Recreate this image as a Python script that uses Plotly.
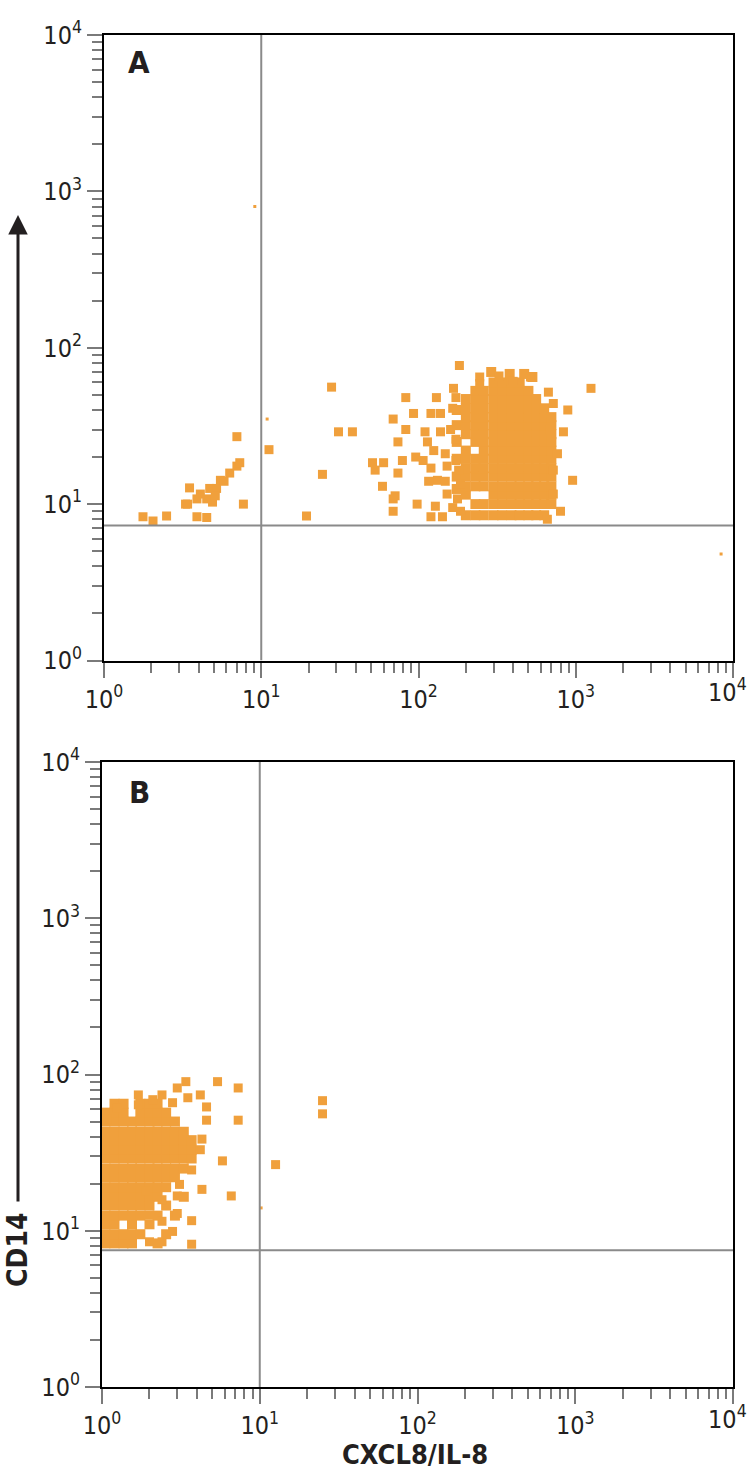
import plotly.graph_objects as go

# ---------------------------------------------------------------------------
# Data (CXCL8/IL-8 vs CD14, log-log dot plots)
# ---------------------------------------------------------------------------
DOT = "#F0A03C"
FONT = "Liberation Sans Narrow, DejaVu Sans Condensed, Open Sans, sans-serif"
INK = "#231f20"

decades = [1, 10, 100, 1000, 10000]
decade_labels = ["10<sup>0</sup>", "10<sup>1</sup>", "10<sup>2</sup>", "10<sup>3</sup>", "10<sup>4</sup>"]
minor_vals = [m * d for d in [1, 10, 100, 1000] for m in range(2, 10)]

# quadrant gates (x: CXCL8/IL-8, y: CD14)
gate_a = (10, 7.3)
gate_b = (10, 7.5)

# Panel A - dense population
a_core_x = (
    [175] * 6 + [200] * 12 + [230] * 13
    + [260] * 14 + [300] * 16 + [340] * 16 + [390] * 16 + [440] * 16
    + [500] * 15 + [560] * 14 + [630] * 13 + [700] * 11
    + [290, 380, 470, 530]
)
a_core_y = (
    [12.5, 15, 19.5, 25, 32, 40]
    + [8.5, 11.5, 13, 15, 17, 19.5, 22, 28, 32, 36, 41, 47]
    + [8.5, 10, 13, 15, 17, 19.5, 25, 28, 32, 36, 41, 47, 53]
    + [8.5, 10, 13, 15, 17, 19.5, 22, 25, 28, 32, 36, 41, 47, 53]
    + [8.5, 10, 11.5, 13, 15, 17, 19.5, 22, 25, 28, 32, 36, 41, 47, 53, 60]
    + [8.5, 10, 11.5, 13, 15, 17, 19.5, 22, 25, 28, 32, 36, 41, 47, 53, 60]
    + [8.5, 10, 11.5, 13, 15, 17, 19.5, 22, 25, 28, 32, 36, 41, 47, 53, 60]
    + [8.5, 10, 11.5, 13, 15, 17, 19.5, 22, 25, 28, 32, 36, 41, 47, 53, 60]
    + [8.5, 10, 11.5, 13, 15, 17, 19.5, 22, 25, 28, 32, 36, 41, 47, 53]
    + [8.5, 10, 11.5, 13, 15, 17, 19.5, 22, 25, 28, 32, 36, 41, 47]
    + [8.5, 10, 11.5, 13, 15, 17, 19.5, 22, 25, 28, 32, 36, 41]
    + [10, 11.5, 13, 15, 17, 19.5, 22, 25, 28, 32, 36]
    + [70, 68, 68, 65]
)

# Panel A - scattered events
a_sparse_x = [
    1.77, 2.05, 2.5, 3.5, 3.3, 3.9, 3.9, 4.5, 4.7, 5.2, 4.9, 4.5, 5.5, 6.3, 7.0, 7.3, 7.0, 7.7,
    3.4, 4.1, 5.1, 5.8,
    11.2, 19.4, 24.5, 31, 38, 28, 69, 51, 60, 53, 59, 69, 69,
    182, 83, 93, 130, 120, 138, 83, 110, 74, 79, 96, 74, 71, 98, 128, 120, 142,
    107, 114, 125, 120, 132, 148, 116, 152, 148, 138, 160, 165, 167, 173, 152, 177,
    165, 185, 173, 173, 180, 185,
    1250, 890, 670, 515, 400, 325, 245, 245, 835, 955, 720, 800, 660, 720, 690, 765, 720,
]
a_sparse_y = [
    8.3, 7.8, 8.4, 12.7, 10, 10.8, 8.3, 8.2, 12.6, 12.6, 10.3, 10.8, 14.2, 15.8, 17.5, 18.4, 27, 10,
    10, 11.6, 11.3, 14,
    22.3, 8.4, 15.5, 29, 29, 56, 35, 18.4, 18.4, 16.5, 13, 10.8, 9,
    77, 48, 38, 48, 38, 38, 30, 29, 25, 19, 20, 15.8, 11.3, 10, 9.7, 8.3, 8.3,
    19, 25, 22, 17, 14.2, 14, 14, 17.5, 21, 29, 30, 41, 55, 48, 11.6, 10.8,
    9.5, 9, 26, 19, 16.5, 13.5,
    55, 40, 52, 65, 61, 66, 65, 59, 29, 14.2, 11.6, 9, 8, 44, 30, 21, 16.5,
]

# Panel A - faint single events
a_faint_x = [9.1, 8400, 10.9]
a_faint_y = [800, 4.8, 35]

# Panel B - dense population
b_core_x = (
    [1.05] * 15 + [1.2] * 16 + [1.37] * 15 + [1.55] * 14 + [1.75] * 14
    + [2.0] * 13 + [2.25] * 13 + [2.55] * 11 + [2.9] * 8 + [3.3] * 6 + [3.7] * 3
)
b_core_y = (
    [8.3, 9.5, 11, 12.5, 14.5, 16.5, 19, 22, 25, 29, 33, 38, 43, 50, 57]
    + [8.3, 9.5, 11, 12.5, 14.5, 16.5, 19, 22, 25, 29, 33, 38, 43, 50, 57, 65]
    + [8.3, 9.5, 12.5, 14.5, 16.5, 19, 22, 25, 29, 33, 38, 43, 50, 57, 65]
    + [8.3, 9.5, 11, 12.5, 14.5, 16.5, 19, 22, 25, 29, 33, 38, 43, 50]
    + [9.5, 12.5, 14.5, 16.5, 19, 22, 25, 29, 33, 38, 43, 50, 57, 65]
    + [11, 14.5, 16.5, 19, 22, 25, 29, 33, 38, 43, 50, 57, 65]
    + [8.3, 12.5, 16.5, 19, 22, 25, 29, 33, 38, 43, 50, 57, 65]
    + [9.5, 14.5, 19, 22, 25, 29, 33, 38, 43, 50, 57]
    + [12.5, 22, 25, 29, 33, 38, 43, 50]
    + [16.5, 25, 29, 33, 38, 43]
    + [29, 33, 38]
)

# Panel B - scattered events
b_sparse_x = [
    3.4, 5.4, 7.3, 4.6, 7.3, 25, 25, 5.8, 12.6, 6.6, 4.3, 3.7, 3.7, 3.7, 3.0, 2.8, 3.1, 3.0,
    2.4, 2.4, 2.0, 2.0, 2.4, 1.9, 4.2, 4.3, 4.6, 4.2, 3.5, 3.0, 1.7, 1.7, 1.25, 1.07, 2.4, 2.1, 2.8,
]
b_sparse_y = [
    90, 90, 82, 62, 51, 68, 56, 28, 26.5, 16.7, 18.4, 24.5, 11.6, 8.2, 12.9, 9.9, 19.8, 16.7,
    15.8, 11.5, 12.6, 8.5, 8.5, 18, 33, 38.6, 51, 74, 71, 82, 74, 64, 61, 52, 74, 69, 66,
]

b_faint_x = [10.2]
b_faint_y = [14]

# ---------------------------------------------------------------------------
fig = go.Figure()


def add_panel(fig, xa, ya, core_x, core_y, sparse_x, sparse_y, faint_x, faint_y, gate):
    for xs, ys, size in [(core_x, core_y, 10), (sparse_x, sparse_y, 9), (faint_x, faint_y, 3)]:
        fig.add_trace(go.Scatter(
            x=xs, y=ys, mode="markers", xaxis=xa, yaxis=ya, showlegend=False,
            marker=dict(symbol="square", size=size, color=DOT, line=dict(width=0)),
            hoverinfo="skip",
        ))
    gx, gy = gate
    fig.add_trace(go.Scatter(x=[gx, gx], y=[1, 10000], mode="lines", xaxis=xa, yaxis=ya,
                             line=dict(color="#8a8a8a", width=2), showlegend=False, hoverinfo="skip"))
    fig.add_trace(go.Scatter(x=[1, 10000], y=[gy, gy], mode="lines", xaxis=xa, yaxis=ya,
                             line=dict(color="#8a8a8a", width=2), showlegend=False, hoverinfo="skip"))


add_panel(fig, "x", "y", a_core_x, a_core_y, a_sparse_x, a_sparse_y, a_faint_x, a_faint_y, gate_a)
add_panel(fig, "x2", "y2", b_core_x, b_core_y, b_sparse_x, b_sparse_y, b_faint_x, b_faint_y, gate_b)


def log_axis(domain, anchor, labels):
    return dict(
        type="log", range=[0, 4], domain=domain, anchor=anchor, automargin=False,
        showgrid=False, zeroline=False,
        showline=True, linecolor="black", linewidth=2, mirror=True,
        ticks="outside", ticklen=15, tickwidth=2, tickcolor="#7a7a7a",
        tickmode="array", tickvals=decades, ticktext=labels,
        tickfont=dict(family=FONT, size=25, color=INK),
        minor=dict(tickmode="array", tickvals=minor_vals, ticks="outside",
                   ticklen=10, tickwidth=2, tickcolor="#7a7a7a", showgrid=False),
    )


def label(text, x, y, size, angle=0, xanchor="center"):
    return dict(text=text, x=x / 750, y=1 - y / 1473, xref="paper", yref="paper",
                xanchor=xanchor, yanchor="middle", textangle=angle, showarrow=False,
                font=dict(family=FONT, size=size, color=INK))


# the last x label sits at the page edge, so it is placed right-aligned instead
x_labels = decade_labels[:-1] + [""]

fig.update_layout(
    width=750, height=1473,
    margin=dict(l=0, r=0, t=0, b=0, autoexpand=False),
    paper_bgcolor="white", plot_bgcolor="white",
    xaxis=log_axis([104 / 750, 733 / 750], "y", x_labels),
    yaxis=log_axis([1 - 660.5 / 1473, 1 - 35 / 1473], "x", decade_labels),
    xaxis2=log_axis([102 / 750, 733 / 750], "y2", x_labels),
    yaxis2=log_axis([1 - 1387 / 1473, 1 - 762 / 1473], "x2", decade_labels),
    annotations=[
        label("<b>A</b>", 139, 62, 31),
        label("<b>B</b>", 139, 792, 31),
        label(decade_labels[-1], 749, 691, 25, xanchor="right"),
        label(decade_labels[-1], 749, 1417, 25, xanchor="right"),
        label("<b>CXCL8/IL-8</b>", 415, 1454, 27),
        label("<b>CD14</b>", 17, 1250, 28, angle=-90),
        # arrow along the CD14 axis
        dict(text="", x=18 / 750, y=1 - 215 / 1473, xref="paper", yref="paper",
             ax=0, ay=988, showarrow=True, arrowhead=2, arrowsize=1.3, arrowwidth=3,
             arrowcolor=INK),
    ],
)

fig.write_html("out.html", config={"displayModeBar": False},
               post_script="document.body.style.margin='0';")
